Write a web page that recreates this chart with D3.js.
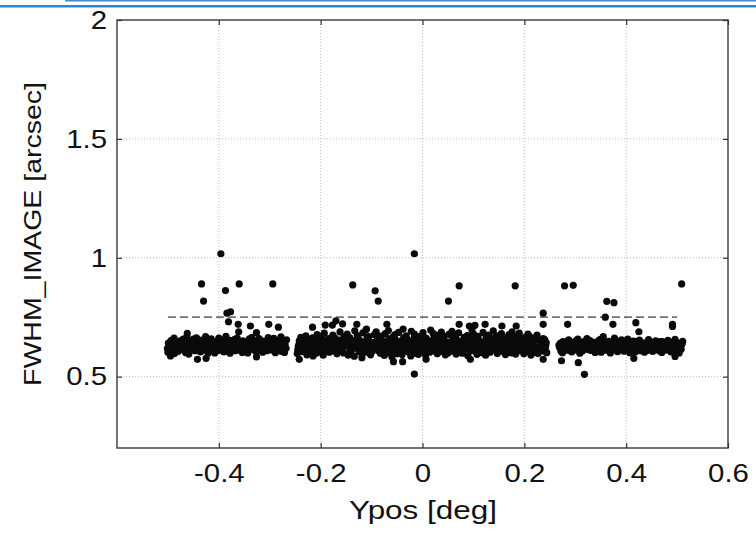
<!DOCTYPE html>
<html>
<head>
<meta charset="utf-8">
<script src="https://cdn.jsdelivr.net/npm/d3@7"></script>
<style>
  body { margin: 0; background: #fff; }
  svg { display: block; font-family: "Liberation Sans", Arial, Helvetica, sans-serif; }
</style>
</head>
<body>
<div id="chart"></div>
<script>
// axis ticks
var xTicks = [-0.4, -0.2, 0, 0.2, 0.4, 0.6]
var yTicks = [0.5, 1, 1.5, 2]
var xLabel = 'Ypos [deg]'
var yLabel = 'FWHM_IMAGE [arcsec]'

// dashed reference level
var refLine = [[-0.5, 0.75], [0.5, 0.75]]

// Ypos, FWHM pairs, first chip group
var chipA = [
  [-.501,.618],[-.499,.641],[-.497,.629],[-.500,.603],[-.494,.652],[-.492,.611],[-.491,.634],[-.495,.622],
  [-.487,.597],[-.485,.645],[-.484,.627],[-.488,.662],[-.479,.615],[-.477,.636],[-.476,.651],[-.480,.606],
  [-.472,.629],[-.470,.658],[-.469,.612],[-.473,.641],[-.465,.601],[-.462,.633],[-.463,.666],[-.466,.621],
  [-.458,.646],[-.456,.617],[-.455,.632],[-.459,.595],[-.450,.658],[-.448,.624],[-.447,.609],[-.451,.639],
  [-.443,.615],[-.441,.647],[-.440,.631],[-.444,.663],[-.436,.604],[-.434,.637],[-.433,.622],[-.437,.654],
  [-.429,.628],[-.427,.611],[-.426,.668],[-.430,.643],[-.421,.598],[-.419,.652],[-.418,.633],[-.422,.619],
  [-.414,.641],[-.412,.626],[-.411,.607],[-.415,.659],[-.407,.616],[-.405,.648],[-.404,.635],[-.408,.600],
  [-.400,.662],[-.398,.623],[-.397,.642],[-.401,.610],[-.392,.631],[-.390,.604],[-.389,.655],[-.393,.618],
  [-.385,.646],[-.383,.613],[-.382,.627],[-.386,.670],[-.378,.599],[-.376,.638],[-.375,.621],[-.379,.653],
  [-.371,.624],[-.369,.657],[-.368,.609],[-.372,.640],[-.363,.612],[-.361,.644],[-.360,.630],[-.364,.662],
  [-.356,.635],[-.354,.602],[-.353,.651],[-.357,.619],[-.349,.647],[-.347,.625],[-.346,.608],[-.350,.638],
  [-.342,.617],[-.340,.659],[-.339,.633],[-.343,.600],[-.334,.640],[-.332,.613],[-.331,.626],[-.335,.665],
  [-.327,.606],[-.325,.636],[-.324,.652],[-.328,.621],[-.320,.629],[-.318,.645],[-.317,.611],[-.321,.660],
  [-.313,.650],[-.311,.618],[-.310,.637],[-.314,.603],[-.305,.623],[-.303,.664],[-.302,.641],[-.306,.609],
  [-.298,.612],[-.296,.634],[-.295,.656],[-.299,.627],[-.291,.643],[-.289,.601],[-.288,.620],[-.292,.661],
  [-.284,.630],[-.282,.653],[-.281,.614],[-.285,.639],[-.277,.606],[-.275,.624],[-.274,.648],[-.278,.667],
  [-.270,.636],[-.268,.619],[-.267,.655],[-.271,.602]
]

// second chip group
var chipB = [
  [-.245,.612],[-.243,.634],[-.242,.651],[-.246,.597],[-.244,.626],[-.238,.642],[-.236,.605],[-.235,.621],[-.239,.665],[-.237,.633],
  [-.230,.618],[-.228,.648],[-.227,.592],[-.231,.637],[-.229,.672],[-.223,.629],[-.221,.611],[-.220,.655],[-.224,.640],[-.222,.600],
  [-.216,.663],[-.214,.624],[-.213,.608],[-.217,.645],[-.215,.587],[-.208,.635],[-.206,.652],[-.205,.616],[-.209,.599],[-.207,.677],
  [-.201,.620],[-.199,.641],[-.198,.668],[-.202,.604],[-.200,.630],[-.194,.653],[-.192,.612],[-.191,.637],[-.195,.590],[-.193,.683],
  [-.186,.627],[-.184,.660],[-.183,.603],[-.187,.644],[-.185,.618],[-.179,.608],[-.177,.639],[-.176,.675],[-.180,.623],[-.178,.656],
  [-.171,.646],[-.169,.615],[-.168,.596],[-.172,.662],[-.170,.631],[-.164,.622],[-.162,.688],[-.161,.641],[-.165,.606],[-.163,.654],
  [-.157,.635],[-.155,.600],[-.154,.669],[-.158,.617],[-.156,.648],[-.149,.659],[-.147,.627],[-.146,.591],[-.150,.642],[-.148,.679],
  [-.142,.611],[-.140,.645],[-.139,.632],[-.143,.664],[-.141,.602],[-.135,.638],[-.133,.693],[-.132,.619],[-.136,.652],[-.134,.586],
  [-.127,.624],[-.125,.657],[-.124,.605],[-.128,.673],[-.126,.640],[-.120,.647],[-.118,.613],[-.117,.684],[-.121,.629],[-.119,.596],
  [-.112,.603],[-.110,.636],[-.109,.661],[-.113,.620],[-.111,.697],[-.105,.651],[-.103,.625],[-.102,.592],[-.106,.668],[-.104,.639],
  [-.098,.616],[-.096,.643],[-.095,.676],[-.099,.606],[-.097,.630],[-.090,.634],[-.088,.662],[-.087,.610],[-.091,.689],[-.089,.647],
  [-.083,.598],[-.081,.627],[-.080,.655],[-.084,.640],[-.082,.671],[-.076,.644],[-.074,.612],[-.073,.681],[-.077,.623],[-.075,.589],
  [-.068,.626],[-.066,.659],[-.065,.637],[-.069,.601],[-.067,.694],[-.061,.610],[-.059,.648],[-.058,.666],[-.062,.631],[-.060,.584],
  [-.053,.655],[-.051,.621],[-.050,.596],[-.054,.677],[-.052,.642],[-.046,.633],[-.044,.607],[-.043,.650],[-.047,.686],[-.045,.619],
  [-.039,.617],[-.037,.664],[-.036,.639],[-.040,.593],[-.038,.700],[-.031,.645],[-.029,.628],[-.028,.604],[-.032,.672],[-.030,.656],
  [-.024,.622],[-.022,.691],[-.021,.646],[-.025,.611],[-.023,.587],[-.017,.660],[-.015,.636],[-.014,.598],[-.018,.624],[-.016,.679],
  [-.009,.613],[-.007,.648],[-.006,.669],[-.010,.630],[-.008,.594],[-.002,.641],[.000,.606],[.001,.685],[-.003,.622],[-.001,.657],
  [.005,.627],[.007,.662],[.008,.610],[.004,.645],[.006,.591],[.013,.651],[.015,.619],[.016,.696],[.012,.634],[.014,.603],
  [.020,.608],[.022,.640],[.023,.666],[.019,.625],[.021,.682],[.027,.637],[.029,.596],[.030,.653],[.026,.618],[.028,.674],
  [.035,.621],[.037,.687],[.038,.643],[.034,.605],[.036,.660],[.042,.658],[.044,.629],[.045,.592],[.041,.671],[.043,.614],
  [.049,.612],[.051,.645],[.052,.678],[.048,.633],[.050,.600],[.057,.640],[.059,.669],[.060,.607],[.056,.624],[.058,.691],
  [.064,.626],[.066,.595],[.067,.655],[.063,.642],[.065,.676],[.072,.603],[.074,.648],[.075,.631],[.071,.684],[.073,.617],
  [.079,.652],[.081,.614],[.082,.665],[.078,.599],[.080,.638],[.086,.631],[.088,.673],[.089,.588],[.085,.646],[.087,.622],
  [.094,.617],[.096,.643],[.097,.697],[.093,.608],[.095,.660],[.101,.662],[.103,.628],[.104,.605],[.100,.680],[.102,.639],
  [.108,.609],[.110,.654],[.111,.636],[.107,.594],[.109,.670],[.116,.644],[.118,.620],[.119,.686],[.115,.632],[.117,.601],
  [.123,.625],[.125,.667],[.126,.611],[.122,.649],[.124,.590],[.131,.656],[.133,.603],[.134,.638],[.130,.675],[.132,.619],
  [.138,.614],[.140,.641],[.141,.663],[.137,.627],[.139,.693],[.145,.639],[.147,.597],[.148,.652],[.144,.616],[.146,.672],
  [.153,.622],[.155,.681],[.156,.607],[.152,.645],[.154,.634],[.160,.650],[.162,.628],[.163,.593],[.159,.666],[.161,.613],
  [.167,.606],[.169,.643],[.170,.677],[.166,.624],[.168,.655],[.175,.635],[.177,.662],[.178,.615],[.174,.600],[.176,.688],
  [.182,.618],[.184,.647],[.185,.630],[.181,.670],[.183,.595],[.189,.659],[.191,.609],[.192,.640],[.188,.625],[.190,.683],
  [.197,.629],[.199,.596],[.200,.664],[.196,.646],[.198,.612],[.204,.641],[.206,.620],[.207,.679],[.203,.604],[.205,.652],
  [.212,.611],[.214,.657],[.215,.633],[.211,.668],[.213,.591],[.219,.648],[.221,.626],[.222,.602],[.218,.639],[.220,.662],
  [.226,.623],[.228,.654],[.229,.614],[.225,.675],[.227,.597],[.234,.637],[.236,.608],[.237,.660],[.233,.627],[.235,.645],
  [.241,.619],[.243,.643],[.244,.601],[.240,.656],[.242,.630]
]

// third chip group
var chipC = [
  [.269,.624],[.271,.641],[.272,.607],[.268,.633],[.276,.648],[.278,.615],[.279,.629],[.275,.601],
  [.284,.611],[.286,.636],[.287,.655],[.283,.622],[.291,.638],[.293,.604],[.294,.627],[.290,.646],
  [.299,.619],[.301,.651],[.302,.612],[.298,.634],[.306,.643],[.308,.625],[.309,.599],[.305,.658],
  [.314,.608],[.316,.632],[.317,.647],[.313,.620],[.321,.629],[.323,.660],[.324,.614],[.320,.638],
  [.329,.652],[.331,.610],[.332,.637],[.328,.623],[.336,.617],[.338,.644],[.339,.602],[.335,.631],
  [.344,.635],[.346,.621],[.347,.654],[.343,.606],[.351,.603],[.353,.640],[.354,.626],[.350,.657],
  [.359,.628],[.361,.611],[.362,.645],[.358,.636],[.366,.649],[.368,.618],[.369,.600],[.365,.633],
  [.374,.613],[.376,.637],[.377,.662],[.373,.624],[.381,.640],[.383,.605],[.384,.628],[.380,.651],
  [.389,.622],[.391,.655],[.392,.614],[.388,.639],[.396,.607],[.398,.632],[.399,.646],[.395,.619],
  [.404,.643],[.406,.625],[.407,.601],[.403,.658],[.411,.630],[.413,.612],[.414,.650],[.410,.636],
  [.419,.616],[.421,.647],[.422,.634],[.418,.604],[.426,.654],[.428,.621],[.429,.609],[.425,.640],
  [.434,.626],[.436,.603],[.437,.642],[.433,.631],[.441,.610],[.443,.637],[.444,.656],[.440,.620],
  [.449,.645],[.451,.628],[.452,.606],[.448,.634],[.456,.619],[.458,.651],[.459,.613],[.455,.639],
  [.464,.633],[.466,.608],[.467,.647],[.463,.624],[.471,.648],[.473,.617],[.474,.630],[.470,.602],
  [.479,.612],[.481,.641],[.482,.653],[.478,.627],[.486,.636],[.488,.604],[.489,.622],[.485,.646],
  [.494,.620],[.496,.657],[.497,.611],[.493,.638],[.501,.642],[.503,.626],[.504,.600],[.500,.633],
  [.508,.615],[.510,.638],[.511,.649],[.507,.624]
]

// stragglers above and below the bands
var outliers = [
  [-.434,.890],[-.430,.818],[-.396,1.017],[-.387,.862],[-.360,.890],[-.294,.890],[-.384,.767],[-.377,.773],
  [-.381,.731],[-.362,.720],[-.361,.689],[-.338,.713],[-.326,.685],[-.302,.720],[-.283,.708],[-.462,.682],
  [-.495,.587],[-.442,.573],[-.425,.577],[-.326,.583],
  [-.242,.573],[-.216,.708],[-.191,.717],[-.177,.717],[-.170,.735],[-.157,.722],[-.137,.886],[-.093,.861],
  [-.087,.818],[-.016,1.017],[-.016,.511],[-.129,.720],[-.070,.720],[-.110,.700],[-.119,.580],[-.057,.563],
  [-.039,.563],
  [.072,.882],[.051,.818],[.182,.882],[.279,.882],[.296,.884],[.509,.890],[.362,.817],[.376,.811],
  [.237,.767],[.359,.750],[.237,.720],[.285,.720],[.374,.720],[.419,.727],[.425,.689],[.491,.711],
  [.491,.720],[.355,.668],[.072,.720],[.092,.713],[.103,.716],[.123,.720],[.156,.713],[.184,.713],
  [.007,.573],[.094,.573],[.273,.567],[.306,.559],[.318,.510],[.237,.573],[.415,.577],[.496,.585]
]

draw()

function draw() {
    var W = 756, H = 535
    var margin = {top: 20, right: 28, bottom: 87, left: 117}

    var svg = d3.select('#chart')
        .append('svg')
        .attr('width', W)
        .attr('height', H)

    // blue rules at the very top of the page
    svg.append('rect').attr('x', 65).attr('y', 0).attr('width', W - 65).attr('height', 1.5).attr('fill', '#3d8fd4')
    svg.append('rect').attr('x', 0).attr('y', 5).attr('width', W).attr('height', 2.5).attr('fill', '#2f86d0')

    var xScale = d3.scaleLinear().domain([-0.6, 0.6]).range([margin.left, W - margin.right])
    var yScale = d3.scaleLinear().domain([0.2, 2]).range([H - margin.bottom, margin.top])
    var x0 = xScale.range()[0], x1 = xScale.range()[1]
    var y0 = yScale.range()[0], y1 = yScale.range()[1]

    // dotted grid
    var grid = svg.append('g')
        .attr('stroke', '#bdbdbd')
        .attr('stroke-width', 1)
        .attr('stroke-dasharray', '1,2')
    grid.selectAll('.gx').data(xTicks.filter(d => d < 0.6)).enter().append('line')
        .attr('x1', d => xScale(d)).attr('x2', d => xScale(d))
        .attr('y1', y0).attr('y2', y1)
    grid.selectAll('.gy').data(yTicks.filter(d => d < 2)).enter().append('line')
        .attr('x1', x0).attr('x2', x1)
        .attr('y1', d => yScale(d)).attr('y2', d => yScale(d))

    // dashed level
    svg.append('path')
        .attr('d', d3.line().x(d => xScale(d[0])).y(d => yScale(d[1]))(refLine))
        .attr('stroke', '#707070')
        .attr('stroke-width', 1.8)
        .attr('stroke-dasharray', '8,4')
        .attr('fill', 'none')

    // points
    var pts = chipA.concat(chipB, chipC, outliers)
    svg.append('g').selectAll('circle')
        .data(pts)
        .enter().append('circle')
        .attr('cx', d => xScale(d[0]))
        .attr('cy', d => yScale(d[1]))
        .attr('r', 3.6)
        .attr('fill', '#0a0a0a')

    // the original font runs a bit wider than Liberation Sans
    function widen(sel, k) {
        sel.each(function () {
            var n = this.getComputedTextLength()
            d3.select(this).attr('textLength', n * k).attr('lengthAdjust', 'spacingAndGlyphs')
        })
    }

    // axes with inward ticks, mirrored on the opposite sides
    var tickStyle = g => {
        g.select('.domain').remove()
        g.selectAll('line').attr('stroke', '#333').attr('stroke-width', 1.2)
        g.selectAll('text').attr('fill', '#111').style('font-size', '26px')
            .style('font-family', '"Liberation Sans", Arial, Helvetica, sans-serif')
        widen(g.selectAll('text'), 1.13)
    }

    svg.append('g')
        .attr('transform', `translate(0, ${y0})`)
        .call(d3.axisBottom(xScale).tickValues(xTicks).tickFormat(d => d === 0 ? '0' : d.toFixed(1)).tickSizeInner(-5).tickSizeOuter(0).tickPadding(16))
        .call(tickStyle)
    svg.append('g')
        .attr('transform', `translate(0, ${y1})`)
        .call(d3.axisTop(xScale).tickValues(xTicks).tickFormat('').tickSizeInner(-5).tickSizeOuter(0))
        .call(tickStyle)
    svg.append('g')
        .attr('transform', `translate(${x0}, 0)`)
        .call(d3.axisLeft(yScale).tickValues(yTicks).tickFormat(d => String(d)).tickSizeInner(-5).tickSizeOuter(0).tickPadding(10))
        .call(tickStyle)
    svg.append('g')
        .attr('transform', `translate(${x1}, 0)`)
        .call(d3.axisRight(yScale).tickValues(yTicks).tickFormat('').tickSizeInner(-5).tickSizeOuter(0))
        .call(tickStyle)

    // frame
    svg.append('rect')
        .attr('x', x0).attr('y', y1)
        .attr('width', x1 - x0).attr('height', y0 - y1)
        .attr('fill', 'none')
        .attr('stroke', '#3a3a3a')
        .attr('stroke-width', 1.4)

    svg.append('text')
        .attr('x', 423)
        .attr('y', 519)
        .attr('text-anchor', 'middle')
        .attr('fill', '#111')
        .style('font-size', '25.5px')
        .attr('textLength', 148)
        .attr('lengthAdjust', 'spacingAndGlyphs')
        .text(xLabel)

    svg.append('text')
        .attr('transform', 'translate(41, 234) rotate(-90)')
        .attr('text-anchor', 'middle')
        .attr('fill', '#111')
        .style('font-size', '24px')
        .attr('textLength', 304)
        .attr('lengthAdjust', 'spacingAndGlyphs')
        .text(yLabel)
}
</script>
</body>
</html>
